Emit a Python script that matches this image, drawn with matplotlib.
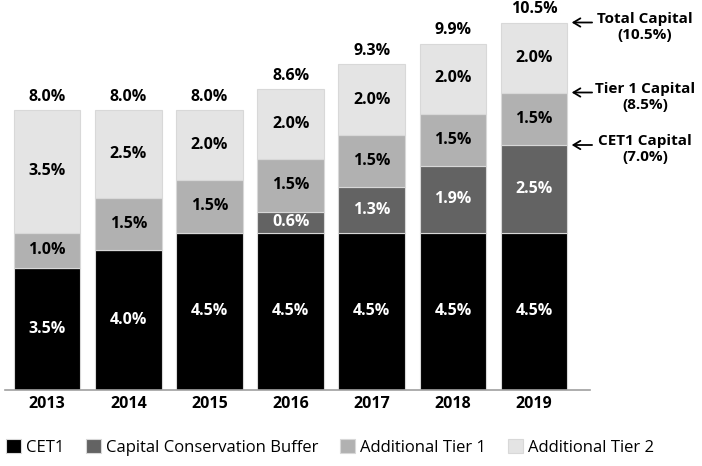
import numpy as np
import matplotlib.pyplot as plt

plt.rcParams['font.family'] = ['Open Sans', 'DejaVu Sans']

# Datos
years = ["2013", "2014", "2015", "2016", "2017", "2018", "2019"]
cet1 = [3.5, 4.0, 4.5, 4.5, 4.5, 4.5, 4.5]
ccb = [0.0, 0.0, 0.0, 0.6, 1.3, 1.9, 2.5]
at1 = [1.0, 1.5, 1.5, 1.5, 1.5, 1.5, 1.5]
t2 = [3.5, 2.5, 2.0, 2.0, 2.0, 2.0, 2.0]
totals = [8.0, 8.0, 8.0, 8.6, 9.3, 9.9, 10.5]

series = [
    ("CET1", cet1, "#000000", "white"),
    ("Capital Conservation Buffer", ccb, "#636363", "white"),
    ("Additional Tier 1", at1, "#b1b1b1", "black"),
    ("Additional Tier 2", t2, "#e4e4e4", "black"),
]

# Flechas a la derecha
callouts = [("Total Capital\n(10.5%)", 10.5), ("Tier 1 Capital\n(8.5%)", 8.5), ("CET1 Capital\n(7.0%)", 7.0)]

fig = plt.figure(figsize=(7.02, 4.66), dpi=100)
ax = fig.add_axes([5 / 702, 76 / 466, 585 / 702, 385 / 466])

x = np.arange(len(years))
bottom = np.zeros(len(years))
for name, vals, color, tcolor in series:
    vals = np.array(vals)
    ax.bar(x, vals, bottom=bottom, width=0.82, color=color, edgecolor="#d8d8d8",
           linewidth=0.8, label=name)
    for xi, b, v in zip(x, bottom, vals):
        if v > 0:
            ax.text(xi, b + v / 2, f"{v:.1f}%", ha="center", va="center",
                    color=tcolor, fontsize=11.5, fontweight="bold")
    bottom += vals

for xi, tot in zip(x, totals):
    ax.text(xi, tot + 0.15, f"{tot:.1f}%", ha="center", va="bottom",
            fontsize=11.5, fontweight="bold")

for label, yv in callouts:
    ax.annotate("", xy=(6.43, yv), xytext=(6.75, yv),
                arrowprops=dict(arrowstyle="->,head_length=0.5,head_width=0.3",
                                color="black", lw=1.3),
                annotation_clip=False)
    ax.text(7.37, yv + 0.3, label, ha="center", va="top", fontsize=11,
            fontweight="bold", linespacing=1.15, clip_on=False)

ax.set_xlim(-0.52, 6.69)
ax.set_ylim(0, 11)
ax.set_xticks(x)
ax.set_xticklabels(years, fontsize=11.5, fontweight="bold")
ax.tick_params(axis="x", length=0, pad=4)
ax.set_yticks([])
for s in ["top", "right", "left"]:
    ax.spines[s].set_visible(False)
ax.spines["bottom"].set_color("#a0a0a0")
ax.spines["bottom"].set_linewidth(1.2)

fig.legend(loc="lower left", bbox_to_anchor=(-0.005, 0.0), ncol=4, frameon=False,
           fontsize=12, handlelength=0.9, handleheight=0.9, handletextpad=0.3,
           columnspacing=1.3, borderaxespad=0.2)

plt.savefig("out.png", dpi=100)
